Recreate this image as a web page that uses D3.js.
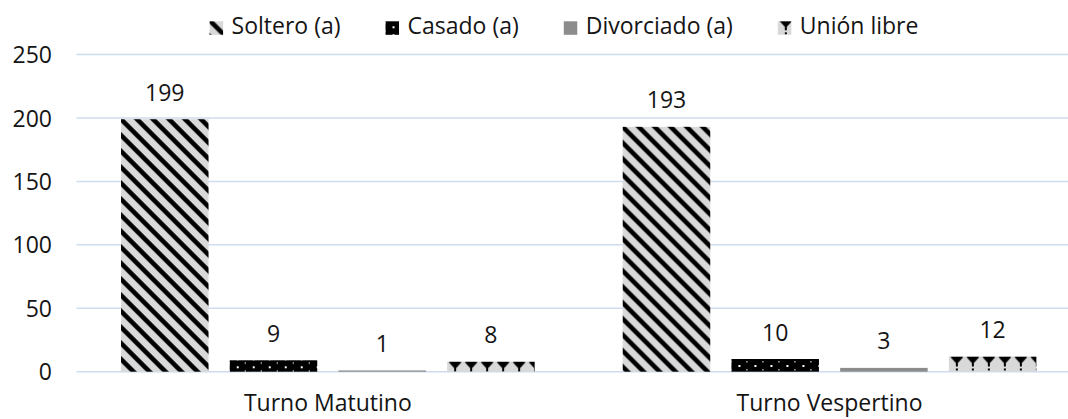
<!DOCTYPE html>
<html>
<head>
<meta charset="utf-8">
<script src="https://cdn.jsdelivr.net/npm/d3@7"></script>
<style>
  html, body { margin: 0; padding: 0; background: #fff; }
  svg { display: block; font-family: "Open Sans", sans-serif; }
</style>
</head>
<body>
<svg id="chart" width="1068" height="419"></svg>
<script>
// ---- data ----
const categories = ["Turno Matutino", "Turno Vespertino"];
const seriesNames = ["Soltero (a)", "Casado (a)", "Divorciado (a)", "Unión libre"];
const soltero = [199, 193];
const casado = [9, 10];
const divorciado = [1, 3];
const unionLibre = [8, 12];
const yTicks = [0, 50, 100, 150, 200, 250];

const seriesValues = [soltero, casado, divorciado, unionLibre];
const seriesKeys = ["sol", "cas", "div", "uni"];

// ---- layout ----
const W = 1068, H = 419;
const plot = { left: 77, right: 1080.4, top: 54.5, bottom: 371.7 };
const fontSize = 23;
const textColor = "#141414";
const gridColor = "#cfdcee";

const svg = d3.select("#chart");
const defs = svg.append("defs");

const x0 = d3.scaleBand().domain(categories).range([plot.left, plot.right]).padding(0);
const x1 = d3.scaleBand().domain(seriesNames).range([0, x0.bandwidth()])
  .paddingInner(0.195).paddingOuter(0.405);
const y = d3.scaleLinear().domain([0, 250]).range([plot.bottom, plot.top]);

// pattern builders (tile origin set at x, y)
function makePattern(id, key, px, py) {
  const p = defs.append("pattern").attr("id", id)
    .attr("patternUnits", "userSpaceOnUse")
    .attr("x", px).attr("y", py);
  if (key === "sol") {
    p.attr("width", 16).attr("height", 16);
    p.append("rect").attr("width", 16).attr("height", 16).attr("fill", "#d9d9d9");
    p.append("path").attr("d", "M-4,-4L20,20M-4,12L4,20M12,-4L20,4")
      .attr("stroke", "#000").attr("stroke-width", 4.6).attr("fill", "none");
  } else if (key === "cas") {
    p.attr("width", 16).attr("height", 8);
    p.append("rect").attr("width", 16).attr("height", 8).attr("fill", "#000");
    p.append("rect").attr("x", 7).attr("y", 6).attr("width", 2).attr("height", 2).attr("fill", "#fff");
    p.append("rect").attr("x", 15).attr("y", 2).attr("width", 1.5).attr("height", 1.5).attr("fill", "#fff");
  } else if (key === "div") {
    p.attr("width", 8).attr("height", 8);
    p.append("rect").attr("width", 8).attr("height", 8).attr("fill", "#8c8c8c");
  } else {
    p.attr("width", 16).attr("height", 16);
    p.append("rect").attr("width", 16).attr("height", 16).attr("fill", "#d9d9d9");
    p.append("path").attr("d", "M1.5,0.5Q8,-1.5 14.5,0.5L9,6.5L9,10L7,10L7,6.5Z")
      .attr("fill", "#000");
    p.append("rect").attr("x", 7).attr("y", 12).attr("width", 2).attr("height", 2).attr("fill", "#000");
  }
  return "url(#" + id + ")";
}

// ---- gridlines ----
svg.append("g").selectAll("line").data(yTicks).join("line")
  .attr("x1", plot.left - 0.5).attr("x2", W + 20)
  .attr("y1", d => y(d)).attr("y2", d => y(d))
  .attr("stroke", gridColor).attr("stroke-width", 1.5);

// ---- y axis labels ----
const yAxis = d3.axisLeft(y).tickValues(yTicks).tickSize(0).tickPadding(0).tickFormat(d3.format("d"));
const yg = svg.append("g").attr("transform", `translate(52,0)`).call(yAxis);
yg.select(".domain").remove();
yg.selectAll("text").attr("font-size", fontSize).attr("fill", textColor)
  .attr("font-family", "'Open Sans', sans-serif").attr("dy", "0.35em");

// ---- bars ----
const barData = [];
categories.forEach((c, ci) => {
  seriesNames.forEach((s, si) => {
    barData.push({ cat: c, ser: s, key: seriesKeys[si], value: seriesValues[si][ci], idx: ci * 10 + si });
  });
});

const bars = svg.append("g");
barData.forEach(d => {
  const bx = x0(d.cat) + x1(d.ser);
  const by = y(d.value);
  const fill = makePattern("p" + d.idx, d.key, bx, by);
  bars.append("rect")
    .attr("x", bx).attr("y", by)
    .attr("width", x1.bandwidth())
    .attr("height", y(0) - by)
    .attr("fill", fill);
});

// ---- value labels ----
svg.append("g").selectAll("text").data(barData).join("text")
  .attr("x", d => x0(d.cat) + x1(d.ser) + x1.bandwidth() / 2)
  .attr("y", d => y(d.value) - 18.5)
  .attr("text-anchor", "middle")
  .attr("font-size", fontSize).attr("fill", textColor)
  .text(d => d.value);

// ---- x axis category labels ----
const xAxis = d3.axisBottom(x0).tickSize(0).tickPadding(0);
const xg = svg.append("g").attr("transform", `translate(0,411)`).call(xAxis);
xg.select(".domain").remove();
xg.selectAll("text").attr("font-size", fontSize).attr("fill", textColor)
  .attr("font-family", "'Open Sans', sans-serif").attr("dy", 0);

// ---- legend ----
const legend = svg.append("g");
const markerSize = 13.5, markerGap = 8.5, itemGap = 45, legendBaseline = 34.3, legendCenter = 564;
const items = seriesNames.map((s, i) => {
  const g = legend.append("g");
  const t = g.append("text").attr("font-size", fontSize).attr("fill", textColor).text(s);
  return { g, t, key: seriesKeys[i], w: t.node().getComputedTextLength() };
});
const total = d3.sum(items, it => markerSize + markerGap + it.w) + itemGap * (items.length - 1);
let cx = legendCenter - total / 2;
items.forEach((it, i) => {
  const my = legendBaseline - markerSize + 0.5;
  const fill = makePattern("lg" + i, it.key, cx, my - 1);
  it.g.insert("rect", "text").attr("x", cx).attr("y", my)
    .attr("width", markerSize).attr("height", markerSize).attr("fill", fill);
  it.t.attr("x", cx + markerSize + markerGap).attr("y", legendBaseline);
  cx += markerSize + markerGap + it.w + itemGap;
});
</script>
</body>
</html>
